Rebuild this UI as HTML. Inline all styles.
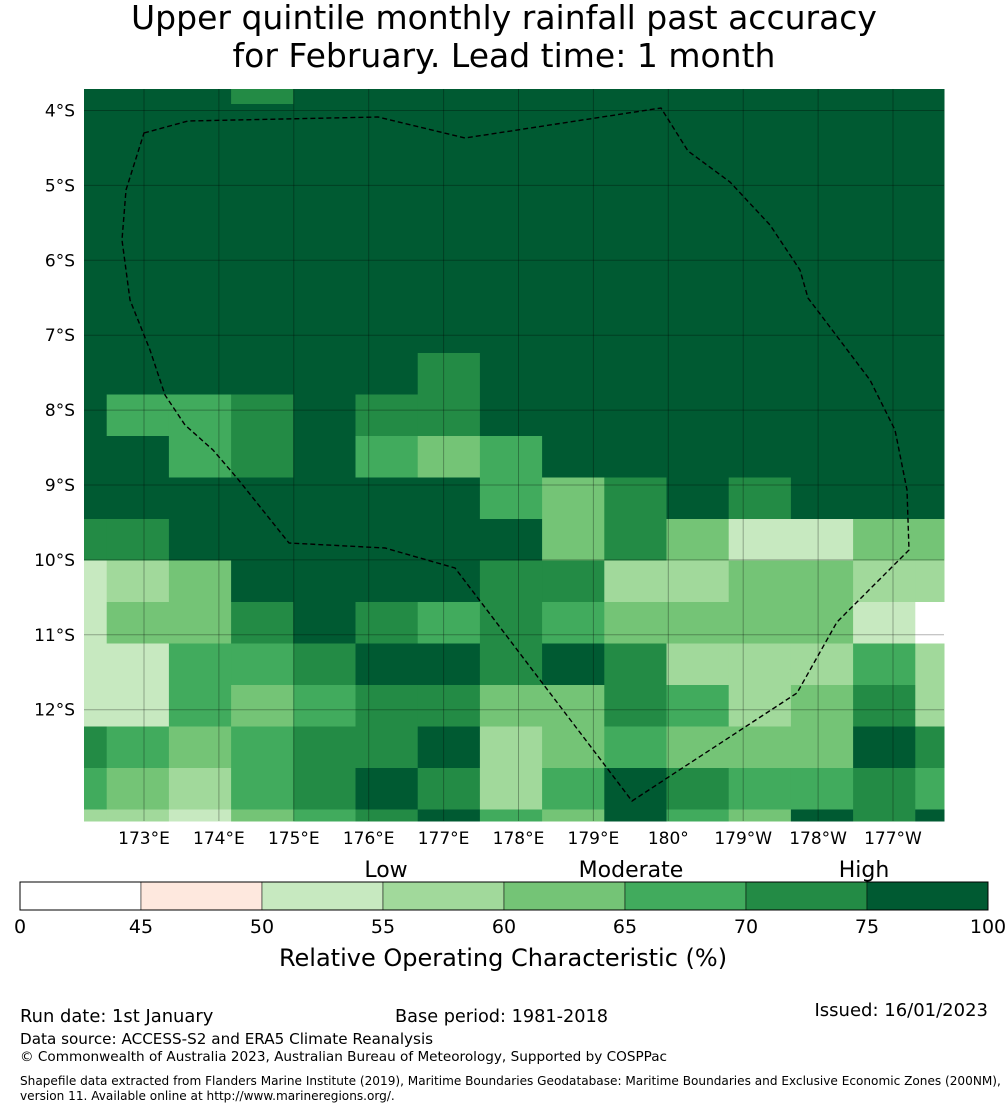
<!DOCTYPE html>
<html><head><meta charset="utf-8"><style>
body{margin:0;background:#fff;width:1008px;height:1110px;overflow:hidden;font-family:"DejaVu Sans","Liberation Sans",sans-serif;}
svg{position:absolute;left:0;top:0}
</style></head><body>
<svg id="chart" width="1008" height="1110" xmlns="http://www.w3.org/2000/svg" font-family="DejaVu Sans, Liberation Sans, sans-serif">
<text x="504" y="29" font-size="33" text-anchor="middle">Upper quintile monthly rainfall past accuracy</text>
<text x="504" y="67" font-size="33" text-anchor="middle">for February. Lead time: 1 month</text>
<g id="cells"></g>
<g id="grid"></g>
<polygon id="eez" fill="none" stroke="#000" stroke-width="1.4" stroke-dasharray="5,3"
points="144,133 188,121 378,117 465,138 661,108 688,151 730,182 770,225 800,270 808,298 870,380 895,430 907,490 909,550 837,622 797,693 632,801 455,568 385,548 289,543 237,478 213,450 185,425 165,395 150,350 130,300 122,240 126,190 144,133"/>
<g id="yticks"></g>
<g id="xticks"></g>
<g id="cbar"></g>
<text x="386" y="877" font-size="22" text-anchor="middle">Low</text>
<text x="631" y="877" font-size="22" text-anchor="middle">Moderate</text>
<text x="864" y="877" font-size="22" text-anchor="middle">High</text>
<text x="503" y="966" font-size="24" text-anchor="middle">Relative Operating Characteristic (%)</text>
<text x="20" y="1022" font-size="17.9">Run date: 1st January</text>
<text x="395" y="1022" font-size="17.7">Base period: 1981-2018</text>
<text x="988" y="1016" font-size="18" text-anchor="end">Issued: 16/01/2023</text>
<text x="20" y="1044" font-size="15.2">Data source: ACCESS-S2 and ERA5 Climate Reanalysis</text>
<text x="20" y="1061" font-size="13.6">© Commonwealth of Australia 2023, Australian Bureau of Meteorology, Supported by COSPPac</text>
<text x="20" y="1085" font-size="12.1">Shapefile data extracted from Flanders Marine Institute (2019), Maritime Boundaries Geodatabase: Maritime Boundaries and Exclusive Economic Zones (200NM),</text>
<text x="20" y="1100" font-size="12.1">version 11. Available online at http://www.marineregions.org/.</text>
</svg>
<script>
// ROC values (%) per grid cell, rows top→bottom, columns west→east
const rocRows = [
[80,80,80,72,80,80,80,80,80,80,80,80,80,80,80],
[80,80,80,80,80,80,80,80,80,80,80,80,80,80,80],
[80,80,80,80,80,80,80,80,80,80,80,80,80,80,80],
[80,80,80,80,80,80,80,80,80,80,80,80,80,80,80],
[80,80,80,80,80,80,80,80,80,80,80,80,80,80,80],
[80,80,80,80,80,80,80,80,80,80,80,80,80,80,80],
[80,80,80,80,80,80,80,80,80,80,80,80,80,80,80],
[80,80,80,80,80,80,72,80,80,80,80,80,80,80,80],
[80,67,67,72,80,72,72,80,80,80,80,80,80,80,80],
[80,80,67,72,80,67,62,67,80,80,80,80,80,80,80],
[80,80,80,80,80,80,80,67,62,72,80,72,80,80,80],
[72,72,80,80,80,80,80,80,62,72,62,52,52,62,62],
[52,57,62,80,80,80,80,72,72,57,57,62,62,57,57],
[52,62,62,72,80,72,67,72,67,62,62,62,62,52,40],
[52,52,67,67,72,80,80,72,80,72,57,57,57,67,57],
[52,52,67,62,67,72,72,62,62,72,67,57,62,72,57],
[72,67,62,67,72,72,80,57,62,67,62,62,62,80,72],
[67,62,57,67,72,80,72,57,67,80,72,67,67,72,67],
[57,57,52,62,67,72,80,67,62,80,67,62,80,72,80]];
const latTicks = ["4°S","5°S","6°S","7°S","8°S","9°S","10°S","11°S","12°S"];
const lonTicks = ["173°E","174°E","175°E","176°E","177°E","178°E","179°E","180°","179°W","178°W","177°W"];
const cbBounds = [0,45,50,55,60,65,70,75,100];
const cbColors = ["#ffffff","#fee8de","#c7e9c0","#a1d99b","#74c476","#41ab5d","#238b45","#005a32"];

const NS="http://www.w3.org/2000/svg";
const MAP={x0:84,x1:944,y0:89,y1:821};
const colEdge=i=>44.5+62.2*i;
const rowEdge=j=>62.5+41.5*j;
const latY=k=>110.5+74.9*k;
const lonX=k=>144+74.9*k;
function colorFor(v){for(let i=cbBounds.length-2;i>=0;i--){if(v>=cbBounds[i])return cbColors[i];}return cbColors[0];}
function mk(tag,attrs,parent){const e=document.createElementNS(NS,tag);for(const k in attrs)e.setAttribute(k,attrs[k]);parent.appendChild(e);return e;}
const cells=document.getElementById('cells');
rocRows.forEach((row,j)=>row.forEach((v,i)=>{
  const x=Math.max(colEdge(i),MAP.x0),x2=Math.min(colEdge(i+1),MAP.x1);
  const y=Math.max(rowEdge(j),MAP.y0),y2=Math.min(rowEdge(j+1),MAP.y1);
  if(x2<=x||y2<=y)return;
  const r=mk('rect',{x:x,y:y,width:x2-x+0.5,height:y2-y+0.5,fill:colorFor(v)},cells);
  
  
}));
const grid=document.getElementById('grid'),yt=document.getElementById('yticks'),xt=document.getElementById('xticks');
latTicks.forEach((t,k)=>{
  const y=latY(k);
  mk('line',{x1:MAP.x0,x2:MAP.x1,y1:y,y2:y,stroke:'#000','stroke-opacity':0.3,'stroke-width':1},grid);
  const tx=mk('text',{x:75,y:y+6,'font-size':17,'text-anchor':'end'},yt);tx.textContent=t;
  
  
});
lonTicks.forEach((t,k)=>{
  const x=lonX(k);
  mk('line',{x1:x,x2:x,y1:MAP.y0,y2:MAP.y1,stroke:'#000','stroke-opacity':0.3,'stroke-width':1},grid);
  const tx=mk('text',{x:x,y:844,'font-size':17,'text-anchor':'middle'},xt);tx.textContent=t;
  
  
});
const cb=document.getElementById('cbar');
const cbX=v=>{const i=cbBounds.findIndex(b=>b>=v);if(i<=0)return 20;const a=cbBounds[i-1],b=cbBounds[i];return 20+121*(i-1)+121*(v-a)/(b-a);};
cbColors.forEach((c,i)=>{
  const x=cbX(cbBounds[i]),x2=cbX(cbBounds[i+1]);
  const r=mk('rect',{x:x,y:882,width:x2-x,height:28,fill:c,stroke:'#000','stroke-width':0.5},cb);
  
  
});
mk('rect',{x:20,y:882,width:968,height:28,fill:'none',stroke:'#000','stroke-width':1},cb);
cbBounds.forEach(b=>{
  const x=cbX(b);
  const t=mk('text',{x:x,y:933,'font-size':19,'text-anchor':'middle'},cb);t.textContent=b;
  
  
});
</script>
</body></html>
